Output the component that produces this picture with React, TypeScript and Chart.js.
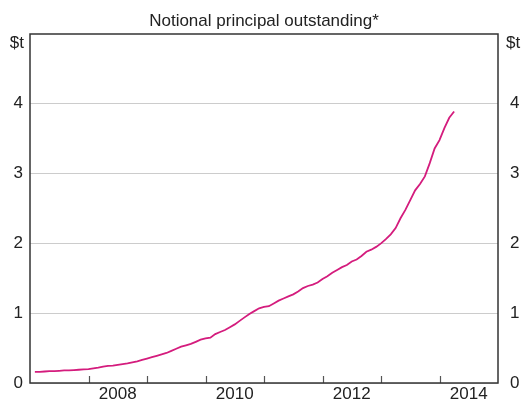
import React, { useEffect, useRef } from "react";
import { Chart, registerables } from "chart.js";

Chart.register(...registerables);

// Monthly series starting February 2007 ($ trillion)
const startYear = 2007;
const startMonth = 2; // February
const notional = [
  0.16, 0.16, 0.165, 0.17, 0.17, 0.175, 0.18, 0.18, 0.185, 0.19, 0.195,
  0.2, 0.21, 0.22, 0.235, 0.245, 0.25, 0.26, 0.27, 0.28, 0.295, 0.31, 0.33,
  0.35, 0.37, 0.39, 0.41, 0.43, 0.46, 0.49, 0.52, 0.54, 0.56, 0.59, 0.62,
  0.64, 0.65, 0.7, 0.73, 0.76, 0.8, 0.84, 0.89, 0.94, 0.99, 1.03, 1.07,
  1.09, 1.1, 1.14, 1.18, 1.21, 1.24, 1.27, 1.31, 1.36, 1.39, 1.41, 1.44,
  1.49, 1.53, 1.58, 1.62, 1.66, 1.69, 1.74, 1.77, 1.82, 1.88, 1.91, 1.95,
  2.0, 2.06, 2.13, 2.22, 2.36, 2.48, 2.62, 2.76, 2.85, 2.96, 3.15, 3.36,
  3.48, 3.65, 3.8, 3.89,
];
const yearTicks = [2008, 2009, 2010, 2011, 2012, 2013, 2014];
const yearLabels = [2008, 2010, 2012, 2014];
const yTicks = [0, 1, 2, 3, 4];
const subtitle = "Notional principal outstanding*";
const unitLabel = "$t";

const FONT = "'Liberation Sans', Arial, sans-serif";
const TEXT = "#222";
const FS = 17;

export default function App() {
  const ref = useRef<HTMLCanvasElement | null>(null);

  useEffect(() => {
    document.body.style.margin = "0";
    const canvas = ref.current!;
    const points = notional.map((v, i) => ({
      x: startYear + (startMonth - 1 + i) / 12,
      y: v,
    }));

    const framePlugin = {
      id: "frame",
      afterDraw(chart: any) {
        const { ctx, chartArea } = chart;
        const xs = chart.scales.x;
        const ys = chart.scales.y;
        ctx.save();
        // inward ticks on x axis
        ctx.strokeStyle = "#555";
        ctx.lineWidth = 1.2;
        yearTicks.forEach((yr) => {
          const px = Math.round(xs.getPixelForValue(yr)) + 0.5;
          ctx.beginPath();
          ctx.moveTo(px, chartArea.bottom);
          ctx.lineTo(px, chartArea.bottom - 7);
          ctx.stroke();
        });
        // frame
        ctx.strokeStyle = "#333";
        ctx.lineWidth = 1.5;
        ctx.strokeRect(
          chartArea.left,
          chartArea.top,
          chartArea.right - chartArea.left,
          chartArea.bottom - chartArea.top
        );
        // texts
        ctx.fillStyle = TEXT;
        ctx.font = `${FS}px ${FONT}`;
        ctx.textBaseline = "middle";
        ctx.textAlign = "center";
        ctx.fillText(subtitle, (chartArea.left + chartArea.right) / 2, 21);
        // y tick labels both sides
        yTicks.forEach((v) => {
          const py = ys.getPixelForValue(v);
          ctx.textAlign = "right";
          ctx.fillText(String(v), chartArea.left - 7, py);
          ctx.textAlign = "left";
          ctx.fillText(String(v), chartArea.right + 12, py);
        });
        ctx.textAlign = "right";
        ctx.fillText(unitLabel, chartArea.left - 6, chartArea.top + 9);
        ctx.textAlign = "left";
        ctx.fillText(unitLabel, chartArea.right + 8, chartArea.top + 9);
        ctx.restore();
      },
    };

    const yScale = (position: "left" | "right", width: number) => ({
      type: "linear" as const,
      position,
      min: 0,
      max: 5,
      afterBuildTicks: (s: any) => {
        s.ticks = yTicks.map((v) => ({ value: v }));
      },
      afterFit: (s: any) => {
        s.width = width;
      },
      grid: {
        display: position === "left",
        color: "#cccccc",
        lineWidth: 1,
        drawTicks: false,
      },
      border: { display: false },
      ticks: { display: false },
    });

    const chart = new Chart(canvas, {
      type: "line",
      data: {
        datasets: [
          {
            data: points,
            borderColor: "#d41c7d",
            borderWidth: 1.8,
            pointRadius: 0,
            tension: 0,
            fill: false,
          },
        ],
      },
      options: {
        responsive: false,
        animation: false,
        events: [],
        layout: { padding: { top: 34, left: 0, right: 0, bottom: 0 } },
        plugins: {
          legend: { display: false },
          tooltip: { enabled: false },
          title: { display: false },
        },
        scales: {
          x: {
            type: "linear",
            min: 2007,
            max: 2015,
            afterBuildTicks: (s: any) => {
              s.ticks = yearLabels.map((y) => ({ value: y + 0.5 }));
            },
            afterFit: (s: any) => {
              s.height = 18;
            },
            grid: { display: false, drawTicks: false },
            border: { display: false },
            ticks: {
              padding: 1,
              maxRotation: 0,
              autoSkip: false,
              color: TEXT,
              font: { family: FONT, size: FS },
              callback: (v: any) => String(Math.floor(Number(v))),
            },
          },
          y: yScale("left", 30),
          y2: yScale("right", 32),
        },
      },
      plugins: [framePlugin],
    });
    return () => chart.destroy();
  }, []);

  return (
    <div style={{ width: 530, height: 401 }}>
      <canvas ref={ref} width={530} height={401} style={{ display: "block" }} />
    </div>
  );
}
